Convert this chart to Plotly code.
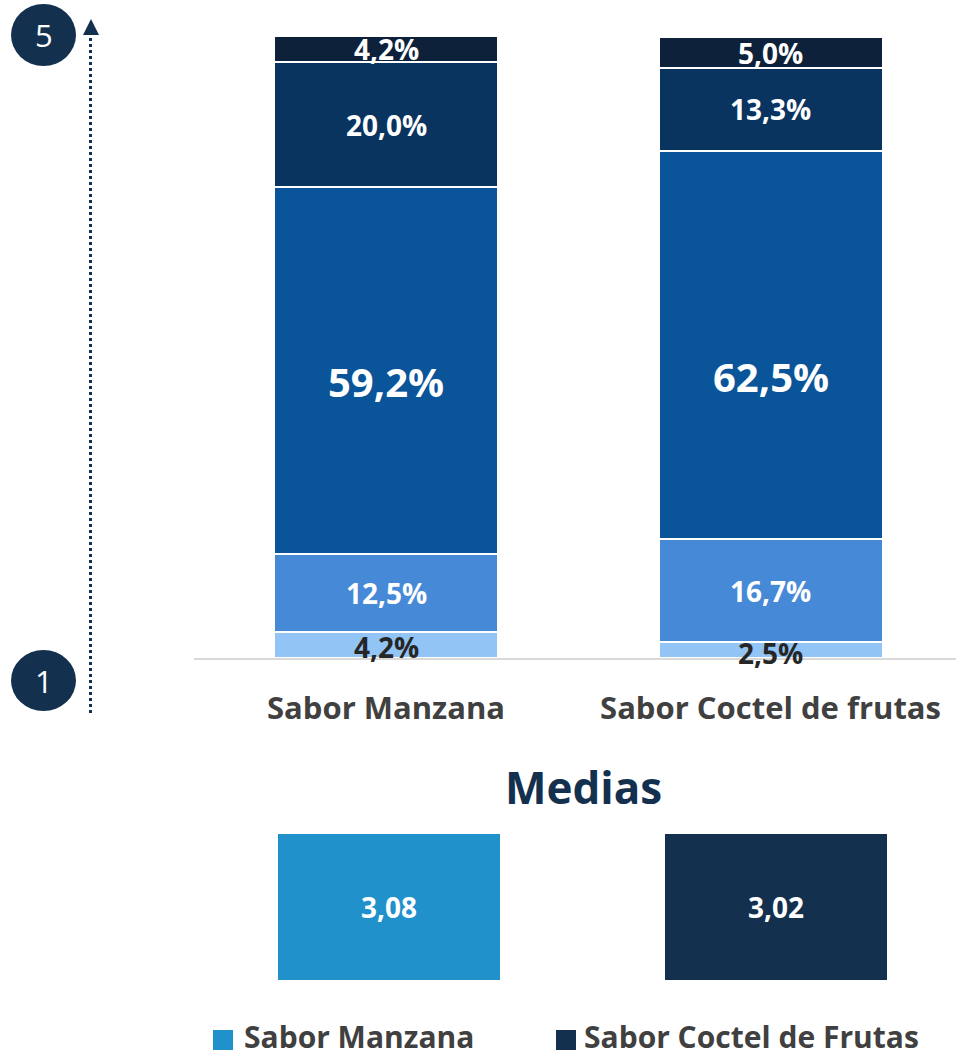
import plotly.graph_objects as go

# ---------------- data ----------------
categories = ["Sabor Manzana", "Sabor Coctel de frutas"]
nivel1 = [4.2, 2.5]     # bottom (1)
nivel2 = [12.5, 16.7]
nivel3 = [59.2, 62.5]
nivel4 = [20.0, 13.3]
nivel5 = [4.2, 5.0]     # top (5)
medias = [3.08, 3.02]
legend_names = ["Sabor Manzana", "Sabor Coctel de Frutas"]
scale_top = "5"
scale_bottom = "1"

levels = [nivel1, nivel2, nivel3, nivel4, nivel5]
seg_colors = ["#92C5F5", "#4689D6", "#0A5499", "#08345F", "#0E213A"]
label_colors = ["#262626", "white", "white", "white", "white"]
label_sizes = [28, 28, 40, 28, 28]
# vertical nudges of labels (px) per level, per category
label_shift = [[-2, -3], [0, 0], [-11, -32], [0, 0], [0, 0]]
NAVY = "#13304F"
box_colors = ["#2191CB", "#13304F"]
FONT = "Open Sans"

W, H = 956, 1058
def px(x):
    return x / W
def py(y):
    return 1 - y / H

fig = go.Figure()

# stacked bars
for i, vals in enumerate(levels):
    fig.add_trace(go.Bar(
        x=categories, y=vals, name=f"Nivel {i+1}",
        marker=dict(color=seg_colors[i], line=dict(color="white", width=2)),
        width=0.5826, showlegend=False, hoverinfo="y",
        xaxis="x", yaxis="y",
    ))

def fmt_pct(v):
    return f"{v:.1f}".replace(".", ",") + "%"

annotations = []
for ci, cat in enumerate(categories):
    base = 0.0
    for li, vals in enumerate(levels):
        v = vals[ci]
        annotations.append(dict(
            x=cat, y=base + v / 2, xref="x", yref="y",
            text=fmt_pct(v), showarrow=False,
            yshift=label_shift[li][ci],
            font=dict(family=FONT, size=label_sizes[li], color=label_colors[li], weight="bold"),
        ))
        base += v

# medias boxes
fig.add_trace(go.Bar(
    x=[0, 1], y=[1, 1], xaxis="x2", yaxis="y2",
    marker=dict(color=box_colors, line=dict(width=0)),
    width=0.5736,
    text=[f"{m:.2f}".replace(".", ",") for m in medias],
    textposition="inside", insidetextanchor="middle",
    textfont=dict(family=FONT, size=28, color="white", weight="bold"),
    showlegend=False, hoverinfo="text",
))

# title "Medias"
annotations.append(dict(
    x=px(583), y=py(787), xref="paper", yref="paper", text="Medias",
    showarrow=False, xanchor="center", yanchor="middle",
    font=dict(family=FONT, size=44, color=NAVY, weight="bold"),
))

shapes = []
# scale circles
for label, (cy0, cy1) in [(scale_top, (4, 66)), (scale_bottom, (650, 711))]:
    shapes.append(dict(type="circle", xref="paper", yref="paper",
                       x0=px(11), x1=px(76), y0=py(cy1), y1=py(cy0),
                       fillcolor=NAVY, line=dict(width=0)))
    annotations.append(dict(
        x=px(43.5), y=py((cy0 + cy1) / 2), xref="paper", yref="paper", text=label,
        showarrow=False, xanchor="center", yanchor="middle",
        font=dict(family=FONT, size=31, color="white"),
    ))

# dotted arrow
shapes.append(dict(type="line", xref="paper", yref="paper",
                   x0=px(90.5), x1=px(90.5), y0=py(713), y1=py(34),
                   line=dict(color=NAVY, width=3, dash="dot")))
shapes.append(dict(type="path", xref="paper", yref="paper",
                   path=f"M {px(83)},{py(35)} L {px(99)},{py(35)} L {px(91)},{py(19)} Z",
                   fillcolor=NAVY, line=dict(width=0)))

# manual legend
legend_items = [(213, 243), (556, 583)]
for (sx, tx), name, col in zip(legend_items, legend_names, box_colors):
    shapes.append(dict(type="rect", xref="paper", yref="paper",
                       x0=px(sx), x1=px(sx + 20), y0=py(1050), y1=py(1030),
                       fillcolor=col, line=dict(width=0)))
    annotations.append(dict(
        x=px(tx), y=0, xref="paper", yref="paper", text=name,
        showarrow=False, xanchor="left", yanchor="bottom", borderpad=0,
        font=dict(family=FONT, size=30, color="#404040", weight="bold"),
    ))

fig.update_layout(
    width=W, height=H, margin=dict(l=0, r=0, t=0, b=0),
    paper_bgcolor="white", plot_bgcolor="rgba(0,0,0,0)",
    barmode="stack", bargap=0,
    xaxis=dict(domain=[px(194), 1], range=[-0.4994, 1.4824], type="category",
               showline=True, linecolor="#D9D9D9", linewidth=2,
               showgrid=False, zeroline=False, ticks="", ticklabelstandoff=22,
               tickfont=dict(family=FONT, size=31, color="#404040", weight="bold"),
               anchor="y", fixedrange=True),
    yaxis=dict(domain=[py(658), py(37)], range=[0, 100], visible=False,
               showgrid=False, zeroline=False, anchor="x", fixedrange=True),
    xaxis2=dict(domain=[0, 1], range=[-1.0052, 1.4651], visible=False,
                anchor="y2", showgrid=False, zeroline=False, fixedrange=True),
    yaxis2=dict(domain=[py(980), py(834)], range=[0, 1], visible=False,
                anchor="x2", showgrid=False, zeroline=False, fixedrange=True),
    annotations=annotations, shapes=shapes,
    font=dict(family=FONT),
)

fig.write_html(
    "out.html",
    config={"displayModeBar": False},
    post_script="document.body.style.margin='0';document.body.style.overflow='hidden';",
)
